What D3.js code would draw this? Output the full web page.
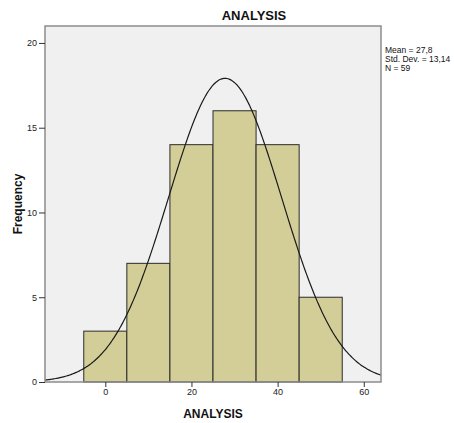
<!DOCTYPE html>
<html>
<head>
<meta charset="utf-8">
<script src="https://cdn.jsdelivr.net/npm/d3@7"></script>
<style>
  html, body { margin: 0; padding: 0; background: #ffffff; }
  svg { display: block; font-family: "Liberation Sans", Arial, sans-serif; }
</style>
</head>
<body>
<svg id="chart" width="454" height="423"></svg>
<script>
// ---- Data ----
const binStarts = [-5, 5, 15, 25, 35, 45];
const binWidth = 10;
const frequencies = [3, 7, 14, 16, 14, 5];
const xTicks = [0, 20, 40, 60];
const yTicks = [0, 5, 10, 15, 20];
const stats = { mean: 27.8, sd: 13.14, n: 59 };
const legendLines = ["Mean = 27,8", "Std. Dev. = 13,14", "N = 59"];
const chartTitle = "ANALYSIS";
const xLabel = "ANALYSIS";
const yLabel = "Frequency";

// ---- Layout ----
const svg = d3.select("#chart");
const plot = { left: 45, right: 381, top: 26, bottom: 382 };

const x = d3.scaleLinear().domain([-14, 64]).range([plot.left, plot.right]);
const y = d3.scaleLinear().domain([0, 21]).range([plot.bottom, plot.top]);

// background
svg.append("rect")
  .attr("x", plot.left).attr("y", plot.top)
  .attr("width", plot.right - plot.left).attr("height", plot.bottom - plot.top)
  .attr("fill", "#f0f0f0");

// bars
svg.append("g").selectAll("rect")
  .data(binStarts.map((s, i) => ({ s, f: frequencies[i] })))
  .join("rect")
  .attr("x", d => x(d.s))
  .attr("y", d => y(d.f))
  .attr("width", d => x(d.s + binWidth) - x(d.s))
  .attr("height", d => y(0) - y(d.f))
  .attr("fill", "#d3ce98")
  .attr("stroke", "#2b2b2b")
  .attr("stroke-width", 1);

// normal curve
const scaleFactor = stats.n * binWidth / (stats.sd * Math.sqrt(2 * Math.PI));
const curvePts = d3.range(-14, 64.001, 0.25).map(v => [v, scaleFactor * Math.exp(-0.5 * Math.pow((v - stats.mean) / stats.sd, 2))]);
svg.append("path")
  .datum(curvePts)
  .attr("fill", "none")
  .attr("stroke", "#1a1a1a")
  .attr("stroke-width", 1.2)
  .attr("d", d3.line().x(d => x(d[0])).y(d => y(d[1])).curve(d3.curveBasis));

// frame
svg.append("rect")
  .attr("x", plot.left).attr("y", plot.top)
  .attr("width", plot.right - plot.left).attr("height", plot.bottom - plot.top)
  .attr("fill", "none")
  .attr("stroke", "#8c8c8c")
  .attr("stroke-width", 1.5);

// axes
const xAxis = d3.axisBottom(x).tickValues(xTicks).tickSize(5).tickPadding(2);
const gx = svg.append("g").attr("transform", `translate(0,${plot.bottom})`).call(xAxis);
gx.select(".domain").remove();
gx.selectAll("line").attr("stroke", "#333");
gx.selectAll("text").attr("font-size", 9).attr("fill", "#222")
  .attr("font-family", "'Liberation Sans', Arial, sans-serif");

const yAxis = d3.axisLeft(y).tickValues(yTicks).tickSize(6).tickPadding(2);
const gy = svg.append("g").attr("transform", `translate(${plot.left},0)`).call(yAxis);
gy.select(".domain").remove();
gy.selectAll("line").attr("stroke", "#333");
gy.selectAll("text").attr("font-size", 9).attr("fill", "#222")
  .attr("font-family", "'Liberation Sans', Arial, sans-serif");

// title
svg.append("text")
  .attr("x", 254).attr("y", 20)
  .attr("text-anchor", "middle")
  .attr("font-size", 13).attr("font-weight", "bold").attr("fill", "#111")
  .text(chartTitle);

// x label
svg.append("text")
  .attr("x", 213).attr("y", 418)
  .attr("text-anchor", "middle")
  .attr("font-size", 12).attr("font-weight", "bold").attr("fill", "#111")
  .text(xLabel);

// y label
svg.append("text")
  .attr("transform", `translate(22,${(plot.top + plot.bottom) / 2}) rotate(-90)`)
  .attr("text-anchor", "middle")
  .attr("font-size", 12).attr("font-weight", "bold").attr("fill", "#111")
  .text(yLabel);

// stats legend
svg.append("g").selectAll("text")
  .data(legendLines)
  .join("text")
  .attr("x", 385)
  .attr("y", (d, i) => 53 + i * 9)
  .attr("font-size", 8.5).attr("fill", "#111")
  .text(d => d);
</script>
</body>
</html>
